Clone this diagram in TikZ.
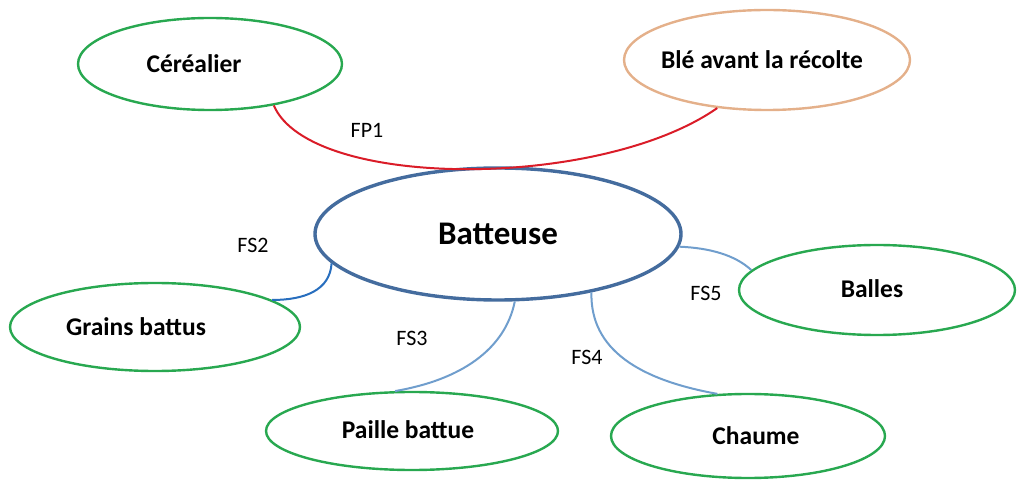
\documentclass[tikz,border=0pt]{standalone}
\usepackage{fontspec}
\setmainfont{Carlito}
\usetikzlibrary{shapes.geometric}
\definecolor{ovgreen}{RGB}{40,168,80}
\definecolor{ovtan}{RGB}{228,176,138}
\definecolor{batblue}{RGB}{68,108,158}
\definecolor{fpred}{RGB}{218,28,40}
\definecolor{fsdark}{RGB}{40,110,190}
\definecolor{fslight}{RGB}{112,158,205}
\newcommand\shtxt[3]{\hspace*{#1}\raisebox{#2}{#3}\hspace*{-#1}}
\tikzset{
  oval/.style={ellipse, draw=ovgreen, line width=2.4pt, inner sep=0pt,
    font=\fontsize{25.5}{30}\selectfont\bfseries},
  fslbl/.style={font=\fontsize{22}{26}\selectfont, inner sep=0pt},
  link/.style={line width=2pt},
}
\begin{document}
\begin{tikzpicture}[x=1pt,y=-1pt]
\useasboundingbox (0,0) rectangle (1018,486);
\node[oval, minimum width=264pt, minimum height=92pt] (cer) at (210,64) {\shtxt{-16pt}{0pt}{Céréalier}};
\node[oval, draw=ovtan, minimum width=286pt, minimum height=100pt] (ble) at (767,60) {\shtxt{-5pt}{0pt}{Blé avant la récolte}};
\node[ellipse, draw=batblue, line width=3.4pt, minimum width=366pt, minimum height=132pt, inner sep=0pt,
  font=\fontsize{33}{38}\selectfont\bfseries] (bat) at (498,234) {Batteuse};
\node[oval, minimum width=290pt, minimum height=88pt] (gr) at (155,327) {\shtxt{-19pt}{0pt}{Grains battus}};
\node[oval, minimum width=276pt, minimum height=90pt] (ba) at (877,290) {\shtxt{-5pt}{3pt}{Balles}};
\node[oval, minimum width=292pt, minimum height=78pt] (pa) at (412,431) {\shtxt{-4pt}{3pt}{Paille battue}};
\node[oval, minimum width=274pt, minimum height=84pt] (ch) at (748,436) {\shtxt{8pt}{-3pt}{Chaume}};

\draw[link, fpred] (cer.-33) .. controls (310,190) and (600,190) .. (ble.-136);
\draw[link, fsdark] (bat.190) .. controls (330,290) and (305,300) .. (gr.13);
\draw[link, fslight] (bat.-76) .. controls (505,350) and (460,380) .. (pa.113.5);
\draw[link, fslight] (bat.-32.6) .. controls (590,350) and (640,380) .. (ch.126);
\draw[link, fslight] (bat.-4) .. controls (710,248) and (735,255) .. (ba.171.4);

\node[fslbl] (fp1) at (367,130) {FP1};
\node[fslbl] (fs2) at (253,245) {FS2};
\node[fslbl] (fs3) at (412,338) {FS3};
\node[fslbl] (fs4) at (587,357) {FS4};
\node[fslbl] (fs5) at (706,293) {FS5};
\end{tikzpicture}
\end{document}
